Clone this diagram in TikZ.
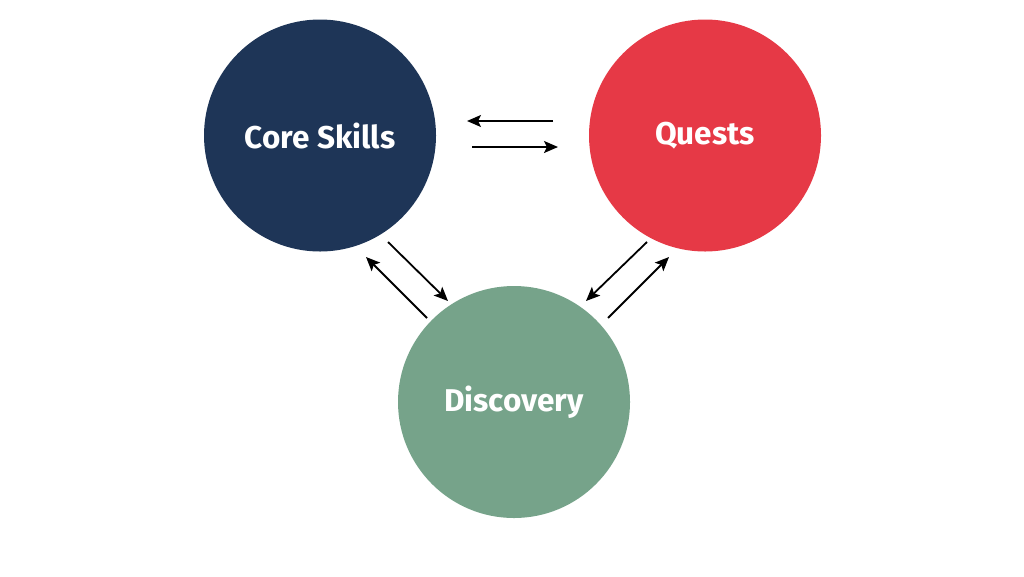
\documentclass[tikz,border=0pt]{standalone}
\usepackage{fontspec}
\setmainfont{Fira Sans}
\usetikzlibrary{arrows.meta}
\definecolor{coreblue}{HTML}{1E3557}
\definecolor{questred}{HTML}{E63946}
\definecolor{discgreen}{HTML}{76A38A}
\tikzset{
  topic/.style={circle, minimum size=232pt, inner sep=0pt, text=white,
    font=\fontsize{31.5}{36}\selectfont\bfseries},
  flow/.style={black, line width=1.8pt, -{Stealth[length=14pt,width=12pt,inset=3pt]}}
}
\begin{document}
\begin{tikzpicture}[x=1pt,y=-1pt]
            \useasboundingbox[fill=white] (0,0) rectangle (1024,576);
            % three topics
            \node[topic, fill=coreblue] (core) at (320,135.5) {Core Skills};
            \node[topic, fill=questred] (quests) at (705,135.5) {Quests};
            \node[topic, fill=discgreen] (disc) at (514,402) {Discovery};

            % arrow ends
            \coordinate (cq1) at (553,121);
            \coordinate (cq2) at (467,121);
            \coordinate (cq3) at (472,147);
            \coordinate (cq4) at (558,147);
            \coordinate (cd1) at (388,242);
            \coordinate (cd2) at (448,301);
            \coordinate (cd3) at (427,318);
            \coordinate (cd4) at (366,257);
            \coordinate (qd1) at (647,242);
            \coordinate (qd2) at (586,301);
            \coordinate (qd3) at (608,318);
            \coordinate (qd4) at (669,257);

            \draw[flow] (cq1) -- (cq2);
            \draw[flow] (cq3) -- (cq4);
            \draw[flow] (cd1) -- (cd2);
            \draw[flow] (cd3) -- (cd4);
            \draw[flow] (qd1) -- (qd2);
            \draw[flow] (qd3) -- (qd4);
\end{tikzpicture}
\end{document}
